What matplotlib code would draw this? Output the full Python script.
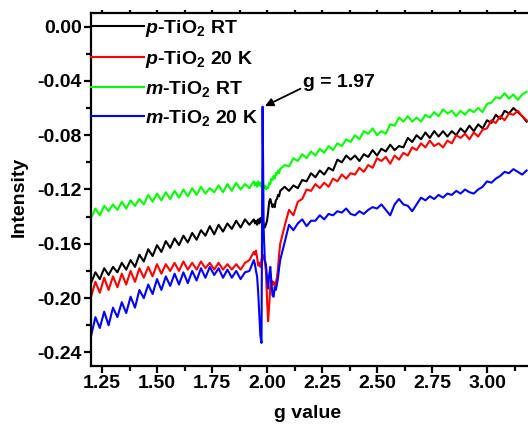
import matplotlib
matplotlib.use("Agg")
import matplotlib.pyplot as plt
import numpy as np
from matplotlib.ticker import MultipleLocator, FormatStrFormatter

# g axis: coarse below the resonance, fine around it, coarse above
G_LOW = [1.20, 1.22, 1.24, 1.26, 1.28, 1.30, 1.32, 1.34, 1.36, 1.38,
         1.40, 1.42, 1.44, 1.46, 1.48, 1.50, 1.52, 1.54, 1.56, 1.58,
         1.60, 1.62, 1.64, 1.66, 1.68, 1.70, 1.72, 1.74, 1.76, 1.78,
         1.80, 1.82, 1.84, 1.86, 1.88, 1.90, 1.92]
G_MID = [1.940, 1.945, 1.950, 1.955, 1.960, 1.965, 1.970, 1.975, 1.980, 1.985,
         1.990, 1.995, 2.000, 2.005, 2.010, 2.015, 2.020, 2.025, 2.030, 2.035,
         2.040, 2.045, 2.050, 2.055, 2.060]
G_HIGH = [2.08, 2.10, 2.12, 2.14, 2.16, 2.18, 2.20, 2.22, 2.24, 2.26,
          2.28, 2.30, 2.32, 2.34, 2.36, 2.38, 2.40, 2.42, 2.44, 2.46,
          2.48, 2.50, 2.52, 2.54, 2.56, 2.58, 2.60, 2.62, 2.64, 2.66,
          2.68, 2.70, 2.72, 2.74, 2.76, 2.78, 2.80, 2.82, 2.84, 2.86,
          2.88, 2.90, 2.92, 2.94, 2.96, 2.98, 3.00, 3.02, 3.04, 3.06,
          3.08, 3.10, 3.12, 3.14, 3.16, 3.18]

P_RT = (
    [-0.189, -0.181, -0.186, -0.178, -0.183, -0.177, -0.181, -0.174, -0.179, -0.172,
     -0.177, -0.168, -0.173, -0.164, -0.169, -0.161, -0.166, -0.158, -0.163, -0.156,
     -0.161, -0.154, -0.159, -0.152, -0.157, -0.150, -0.154, -0.147, -0.153, -0.146,
     -0.151, -0.145, -0.149, -0.143, -0.148, -0.142, -0.146]
    + [-0.142, -0.145, -0.143, -0.146, -0.142, -0.145, -0.141, -0.144, -0.142, -0.146,
       -0.148, -0.146, -0.143, -0.137, -0.129, -0.127, -0.130, -0.133, -0.131, -0.133,
       -0.128, -0.127, -0.124, -0.125, -0.121]
    + [-0.118, -0.121, -0.117, -0.119, -0.113, -0.114, -0.108, -0.111, -0.106, -0.109,
       -0.104, -0.106, -0.098, -0.100, -0.095, -0.098, -0.095, -0.099, -0.094, -0.096,
       -0.091, -0.095, -0.090, -0.092, -0.087, -0.091, -0.088, -0.089, -0.082, -0.085,
       -0.080, -0.083, -0.078, -0.082, -0.077, -0.081, -0.077, -0.081, -0.077, -0.080,
       -0.075, -0.078, -0.073, -0.077, -0.072, -0.075, -0.069, -0.071, -0.065, -0.068,
       -0.062, -0.064, -0.060, -0.063, -0.066, -0.070]
)

P_20K = (
    [-0.199, -0.188, -0.196, -0.185, -0.194, -0.184, -0.192, -0.182, -0.190, -0.180,
     -0.188, -0.178, -0.185, -0.177, -0.184, -0.175, -0.182, -0.175, -0.180, -0.174,
     -0.180, -0.173, -0.179, -0.174, -0.179, -0.173, -0.178, -0.174, -0.179, -0.174,
     -0.179, -0.175, -0.179, -0.175, -0.179, -0.174, -0.172]
    + [-0.166, -0.168, -0.165, -0.170, -0.176, -0.174, -0.177, -0.172, -0.168, -0.170,
       -0.173, -0.180, -0.200, -0.217, -0.205, -0.192, -0.187, -0.190, -0.188, -0.191,
       -0.189, -0.185, -0.178, -0.168, -0.160]
    + [-0.147, -0.135, -0.139, -0.129, -0.127, -0.120, -0.121, -0.116, -0.119, -0.115,
       -0.118, -0.112, -0.114, -0.109, -0.112, -0.108, -0.109, -0.104, -0.107, -0.102,
       -0.104, -0.097, -0.099, -0.096, -0.101, -0.095, -0.098, -0.093, -0.095, -0.089,
       -0.091, -0.086, -0.089, -0.084, -0.088, -0.086, -0.089, -0.084, -0.086, -0.080,
       -0.082, -0.079, -0.083, -0.078, -0.081, -0.076, -0.075, -0.069, -0.071, -0.066,
       -0.069, -0.064, -0.065, -0.062, -0.066, -0.069]
)

M_RT = (
    [-0.141, -0.134, -0.139, -0.132, -0.136, -0.131, -0.135, -0.129, -0.134, -0.128,
     -0.132, -0.127, -0.131, -0.124, -0.129, -0.123, -0.128, -0.122, -0.127, -0.121,
     -0.126, -0.120, -0.125, -0.119, -0.124, -0.118, -0.123, -0.119, -0.122, -0.117,
     -0.122, -0.116, -0.121, -0.115, -0.120, -0.116, -0.119]
    + [-0.114, -0.117, -0.115, -0.118, -0.114, -0.117, -0.115, -0.118, -0.116, -0.119,
       -0.117, -0.120, -0.118, -0.119, -0.115, -0.116, -0.112, -0.113, -0.110, -0.112,
       -0.108, -0.109, -0.106, -0.108, -0.105]
    + [-0.102, -0.103, -0.097, -0.099, -0.094, -0.097, -0.092, -0.095, -0.090, -0.093,
       -0.088, -0.091, -0.086, -0.088, -0.083, -0.085, -0.080, -0.083, -0.077, -0.079,
       -0.075, -0.080, -0.077, -0.079, -0.072, -0.073, -0.067, -0.070, -0.066, -0.070,
       -0.067, -0.070, -0.065, -0.067, -0.063, -0.066, -0.061, -0.064, -0.062, -0.066,
       -0.062, -0.065, -0.061, -0.063, -0.060, -0.063, -0.057, -0.056, -0.052, -0.053,
       -0.049, -0.053, -0.050, -0.054, -0.050, -0.048]
)

M_20K = (
    [-0.228, -0.214, -0.222, -0.210, -0.220, -0.207, -0.214, -0.203, -0.211, -0.199,
     -0.207, -0.194, -0.200, -0.190, -0.197, -0.186, -0.194, -0.184, -0.191, -0.182,
     -0.190, -0.181, -0.189, -0.180, -0.187, -0.178, -0.185, -0.177, -0.183, -0.178,
     -0.185, -0.179, -0.185, -0.180, -0.186, -0.181, -0.180]
    + [-0.172, -0.175, -0.180, -0.184, -0.196, -0.212, -0.228, -0.233, -0.059, -0.150,
       -0.172, -0.175, -0.185, -0.193, -0.183, -0.177, -0.188, -0.198, -0.199, -0.192,
       -0.194, -0.190, -0.185, -0.178, -0.172]
    + [-0.159, -0.146, -0.150, -0.145, -0.142, -0.147, -0.143, -0.143, -0.139, -0.142,
       -0.138, -0.139, -0.136, -0.137, -0.134, -0.138, -0.139, -0.136, -0.138, -0.135,
       -0.133, -0.134, -0.131, -0.135, -0.139, -0.131, -0.127, -0.131, -0.132, -0.136,
       -0.131, -0.126, -0.128, -0.125, -0.127, -0.124, -0.126, -0.123, -0.124, -0.121,
       -0.123, -0.120, -0.122, -0.123, -0.120, -0.118, -0.114, -0.115, -0.112, -0.110,
       -0.107, -0.108, -0.105, -0.107, -0.109, -0.106]
)

LABELS = [r"$\mathit{p}$-TiO$_2$ RT", r"$\mathit{p}$-TiO$_2$ 20 K",
          r"$\mathit{m}$-TiO$_2$ RT", r"$\mathit{m}$-TiO$_2$ 20 K"]
COLORS = ["black", "#ff0000", "#00ff00", "#0000ff"]
PEAK_G = 1.98
PEAK_VALUE = -0.059
FONT_SIZE = 14


def main():
    plt.rcParams["font.family"] = ["Liberation Sans", "DejaVu Sans"]
    plt.rcParams["font.weight"] = "bold"
    plt.rcParams["mathtext.fontset"] = "custom"
    plt.rcParams["mathtext.rm"] = "Liberation Sans:bold"
    plt.rcParams["mathtext.it"] = "Liberation Sans:italic:bold"
    plt.rcParams["mathtext.bf"] = "Liberation Sans:bold"
    plt.rcParams["mathtext.default"] = "rm"
    plt.rcParams["axes.unicode_minus"] = False

    g = np.array(G_LOW + G_MID + G_HIGH)
    series = [P_RT, P_20K, M_RT, M_20K]

    fig = plt.figure(figsize=(5.28, 4.25), dpi=100)
    ax = fig.add_axes([91 / 528, 59 / 425, 440 / 528, 353 / 425])

    for values, color, label in zip(series, COLORS, LABELS):
        ax.plot(g, values, color=color, lw=1.5, label=label)

    ax.set_xlim(1.2, 3.2)
    ax.set_ylim(-0.25, 0.01)
    ax.xaxis.set_major_locator(MultipleLocator(0.25))
    ax.xaxis.set_minor_locator(MultipleLocator(0.125))
    ax.yaxis.set_major_locator(MultipleLocator(0.04))
    ax.yaxis.set_minor_locator(MultipleLocator(0.02))
    ax.xaxis.set_major_formatter(FormatStrFormatter("%.2f"))
    ax.yaxis.set_major_formatter(FormatStrFormatter("%.2f"))

    for side in ["left", "bottom", "top", "right"]:
        ax.spines[side].set_linewidth(1.6)
    ax.tick_params(axis="both", which="major", direction="out", length=5,
                   width=1.6, labelsize=FONT_SIZE, pad=1.5)
    ax.tick_params(axis="both", which="minor", direction="out", length=3.5, width=1.6)
    ax.tick_params(axis="x", which="both", top=True, labeltop=False)
    for tick in ax.xaxis.get_major_ticks() + ax.xaxis.get_minor_ticks():
        tick.tick2line.set_markersize(2)

    ax.set_xlabel("g value", fontsize=FONT_SIZE, fontweight="bold")
    ax.set_ylabel("Intensity", fontsize=FONT_SIZE, fontweight="bold")
    ax.xaxis.set_label_coords(0.493, -0.11)
    ax.yaxis.set_label_coords(-0.143, 0.48)

    ax.legend(loc="upper left", bbox_to_anchor=(0.0, 0.985), frameon=False,
              fontsize=FONT_SIZE, handlelength=2.7, handletextpad=0.1,
              borderaxespad=0.0, borderpad=0.0, labelspacing=0.48)

    ax.annotate("g = 1.97", xy=(PEAK_G + 0.005, PEAK_VALUE), xytext=(2.165, -0.041),
                fontsize=FONT_SIZE, fontweight="bold", ha="left", va="center",
                arrowprops=dict(arrowstyle="-|>", color="black", lw=1.3,
                                shrinkA=0, shrinkB=1, relpos=(0.0, 0.2),
                                mutation_scale=12))

    fig.savefig("out.png", dpi=100)


if __name__ == "__main__":
    main()
